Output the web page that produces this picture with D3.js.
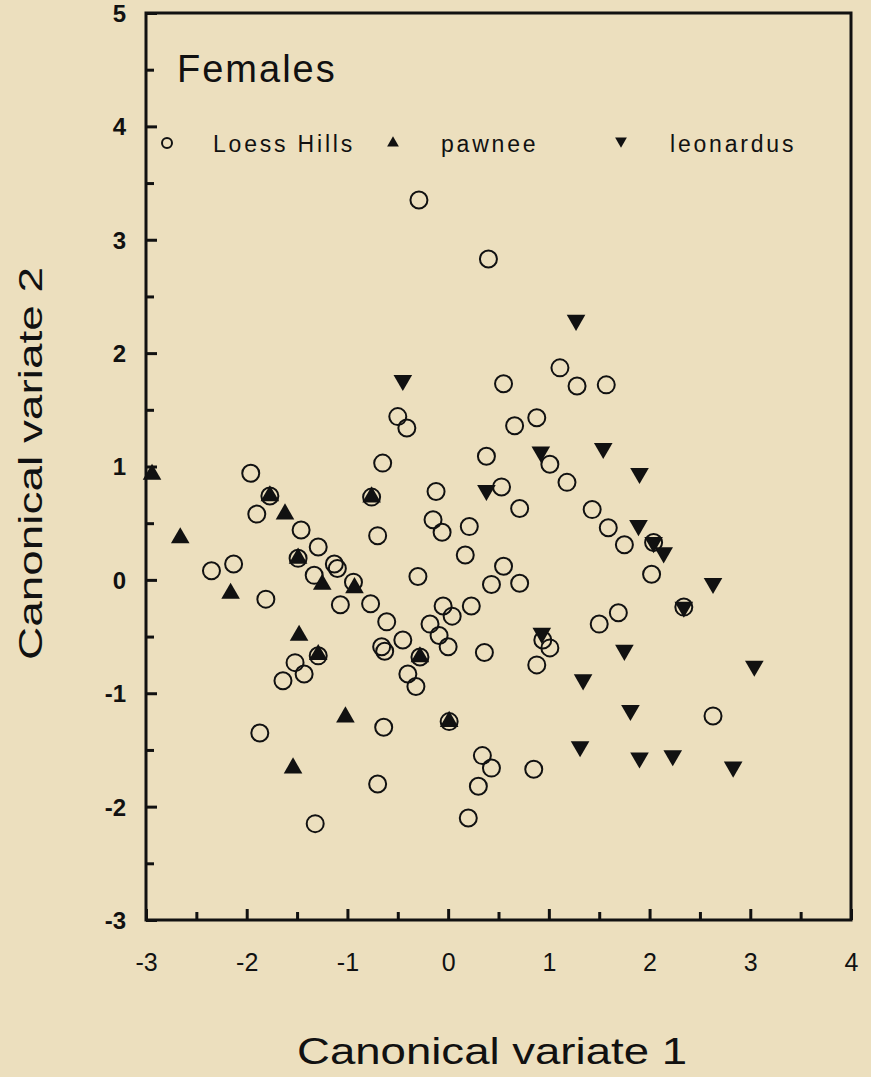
<!DOCTYPE html>
<html>
<head>
<meta charset="utf-8">
<script src="https://cdn.jsdelivr.net/npm/d3@7"></script>
<style>
  body { margin: 0; background: #ecdfbe; }
  svg { display: block; }
  text { font-family: "Liberation Sans", Arial, sans-serif; fill: #111; }
</style>
</head>
<body>
<div id="chart"></div>
<script>
// canonical variate scores: [cv1, cv2]
var loessHills = [
  [-0.29, 3.35], [0.40, 2.83], [0.55, 1.73], [1.11, 1.87], [1.28, 1.71], [1.57, 1.72],
  [-0.50, 1.44], [-0.41, 1.34], [0.66, 1.36], [0.88, 1.43], [0.38, 1.09], [1.01, 1.02],
  [1.18, 0.86], [-0.65, 1.03], [-1.96, 0.94], [-1.77, 0.74], [-1.90, 0.58], [-0.12, 0.78],
  [0.53, 0.82], [0.71, 0.63], [-0.15, 0.53], [-0.06, 0.42], [0.21, 0.47], [-0.70, 0.39],
  [-0.76, 0.73], [-1.46, 0.44], [-1.29, 0.29], [-1.49, 0.19], [-2.35, 0.08], [-2.13, 0.14],
  [-1.13, 0.14], [-1.10, 0.10], [-1.33, 0.04], [-0.94, -0.02], [-1.81, -0.17], [-1.07, -0.22],
  [-0.77, -0.21], [-0.61, -0.37], [-0.30, 0.03], [1.43, 0.62], [1.59, 0.46], [1.75, 0.31],
  [2.04, 0.33], [2.02, 0.05], [2.34, -0.24], [0.17, 0.22], [0.55, 0.12], [0.43, -0.04],
  [0.71, -0.03], [-0.05, -0.23], [0.04, -0.32], [0.23, -0.23], [-0.18, -0.39], [-0.09, -0.49],
  [0.00, -0.59], [0.36, -0.64], [1.69, -0.29], [1.50, -0.39], [0.94, -0.53], [1.01, -0.60],
  [0.88, -0.75], [-1.29, -0.67], [-1.52, -0.73], [-1.43, -0.83], [-1.64, -0.89], [-0.66, -0.59],
  [-0.63, -0.63], [-0.45, -0.53], [-0.28, -0.68], [-0.40, -0.83], [-0.32, -0.94], [2.63, -1.20],
  [0.01, -1.25], [-0.64, -1.30], [-1.87, -1.35], [-0.70, -1.80], [0.34, -1.55], [0.43, -1.66],
  [0.30, -1.82], [0.85, -1.67], [0.20, -2.10], [-1.32, -2.15]
];

var pawnee = [
  [-2.94, 0.93], [-1.77, 0.74], [-1.62, 0.58], [-2.66, 0.37], [-1.49, 0.19], [-1.25, -0.04],
  [-0.93, -0.07], [-2.16, -0.12], [-0.76, 0.73], [-1.48, -0.49], [-1.29, -0.66], [-0.28, -0.68],
  [-1.02, -1.21], [0.01, -1.25], [-1.54, -1.66]
];

var leonardus = [
  [1.27, 2.29], [-0.45, 1.76], [0.92, 1.13], [1.54, 1.16], [1.90, 0.94], [0.38, 0.79],
  [1.89, 0.48], [2.04, 0.33], [2.14, 0.24], [2.63, -0.03], [2.34, -0.24], [0.93, -0.47],
  [1.75, -0.62], [3.04, -0.76], [1.34, -0.88], [1.81, -1.15], [1.31, -1.47], [1.90, -1.57],
  [2.23, -1.55], [2.83, -1.65]
];

var xTicks = [-3, -2, -1, 0, 1, 2, 3, 4];
var yTicks = [-3, -2, -1, 0, 1, 2, 3, 4, 5];
var legendLabels = ["Loess Hills", "pawnee", "leonardus"];

var width = 871, height = 1077;
var plotLeft = 146, plotRight = 851, plotTop = 13, plotBottom = 920;

var svg = d3.select("#chart").append("svg")
  .attr("width", width)
  .attr("height", height);

var x = d3.scaleLinear().domain([-3, 4]).range([plotLeft, plotRight]);
var y = d3.scaleLinear().domain([-3, 5]).range([plotBottom, plotTop]);

// plain hyphen like the original, not the unicode minus
var fmt = function (d) { return String(d); };

// minor ticks every 0.5
var xMinor = d3.range(-2.5, 4, 1);
var yMinor = d3.range(-2.5, 5, 1);

var xAxis = svg.append("g")
  .attr("transform", "translate(0," + plotBottom + ")")
  .call(d3.axisBottom(x).tickValues(xTicks).tickSize(-11).tickPadding(46).tickFormat(fmt));
svg.append("g")
  .attr("transform", "translate(0," + plotBottom + ")")
  .call(d3.axisBottom(x).tickValues(xMinor).tickSize(-8).tickFormat(""));

var yAxis = svg.append("g")
  .attr("transform", "translate(" + plotLeft + ",0)")
  .call(d3.axisLeft(y).tickValues(yTicks).tickSize(-11).tickPadding(20).tickFormat(fmt));
svg.append("g")
  .attr("transform", "translate(" + plotLeft + ",0)")
  .call(d3.axisLeft(y).tickValues(yMinor).tickSize(-8).tickFormat(""));

svg.selectAll(".domain").remove();
svg.selectAll(".tick line").attr("stroke", "#111").attr("stroke-width", 3);
xAxis.selectAll(".tick text").attr("font-size", 25).attr("dy", "0.2em").attr("fill", "#111");
yAxis.selectAll(".tick text").attr("font-size", 24).attr("font-weight", "bold").attr("dy", "0.35em").attr("fill", "#111");

// frame
svg.append("rect")
  .attr("x", plotLeft).attr("y", plotTop)
  .attr("width", plotRight - plotLeft).attr("height", plotBottom - plotTop)
  .attr("fill", "none").attr("stroke", "#111").attr("stroke-width", 3);

// points
var tri = d3.symbol().type(d3.symbolTriangle).size(150);

svg.append("g").selectAll("circle")
  .data(loessHills)
  .enter()
  .append("circle")
  .attr("cx", function (d) { return x(d[0]); })
  .attr("cy", function (d) { return y(d[1]); })
  .attr("r", 8.5)
  .attr("fill", "none")
  .attr("stroke", "#111")
  .attr("stroke-width", 2);

svg.append("g").selectAll("path")
  .data(pawnee)
  .enter()
  .append("path")
  .attr("d", tri)
  .attr("transform", function (d) { return "translate(" + x(d[0]) + "," + y(d[1]) + ")"; })
  .attr("fill", "#111");

svg.append("g").selectAll("path")
  .data(leonardus)
  .enter()
  .append("path")
  .attr("d", tri)
  .attr("transform", function (d) { return "translate(" + x(d[0]) + "," + y(d[1]) + ") rotate(180)"; })
  .attr("fill", "#111");

// title and legend
svg.append("text")
  .attr("x", 177).attr("y", 82)
  .attr("font-size", 38)
  .attr("letter-spacing", 2)
  .text("Females");

var legend = svg.append("g");
legend.append("circle")
  .attr("cx", 167).attr("cy", 143).attr("r", 5)
  .attr("fill", "none").attr("stroke", "#111").attr("stroke-width", 2);
legend.append("path")
  .attr("d", d3.symbol().type(d3.symbolTriangle).size(60))
  .attr("transform", "translate(393,143)")
  .attr("fill", "#111");
legend.append("path")
  .attr("d", d3.symbol().type(d3.symbolTriangle).size(60))
  .attr("transform", "translate(621,141) rotate(180)")
  .attr("fill", "#111");

var legendX = [213, 441, 670];
legend.selectAll("text")
  .data(legendLabels)
  .enter()
  .append("text")
  .attr("x", function (d, i) { return legendX[i]; })
  .attr("y", 152)
  .attr("font-size", 23)
  .attr("letter-spacing", 2.8)
  .text(function (d) { return d; });

// axis titles
svg.append("text")
  .attr("x", 297).attr("y", 1064)
  .attr("font-size", 37)
  .attr("textLength", 390)
  .attr("lengthAdjust", "spacingAndGlyphs")
  .text("Canonical variate 1");

svg.append("text")
  .attr("transform", "translate(42,660) rotate(-90)")
  .attr("font-size", 33)
  .attr("textLength", 393)
  .attr("lengthAdjust", "spacingAndGlyphs")
  .text("Canonical variate 2");
</script>
</body>
</html>
